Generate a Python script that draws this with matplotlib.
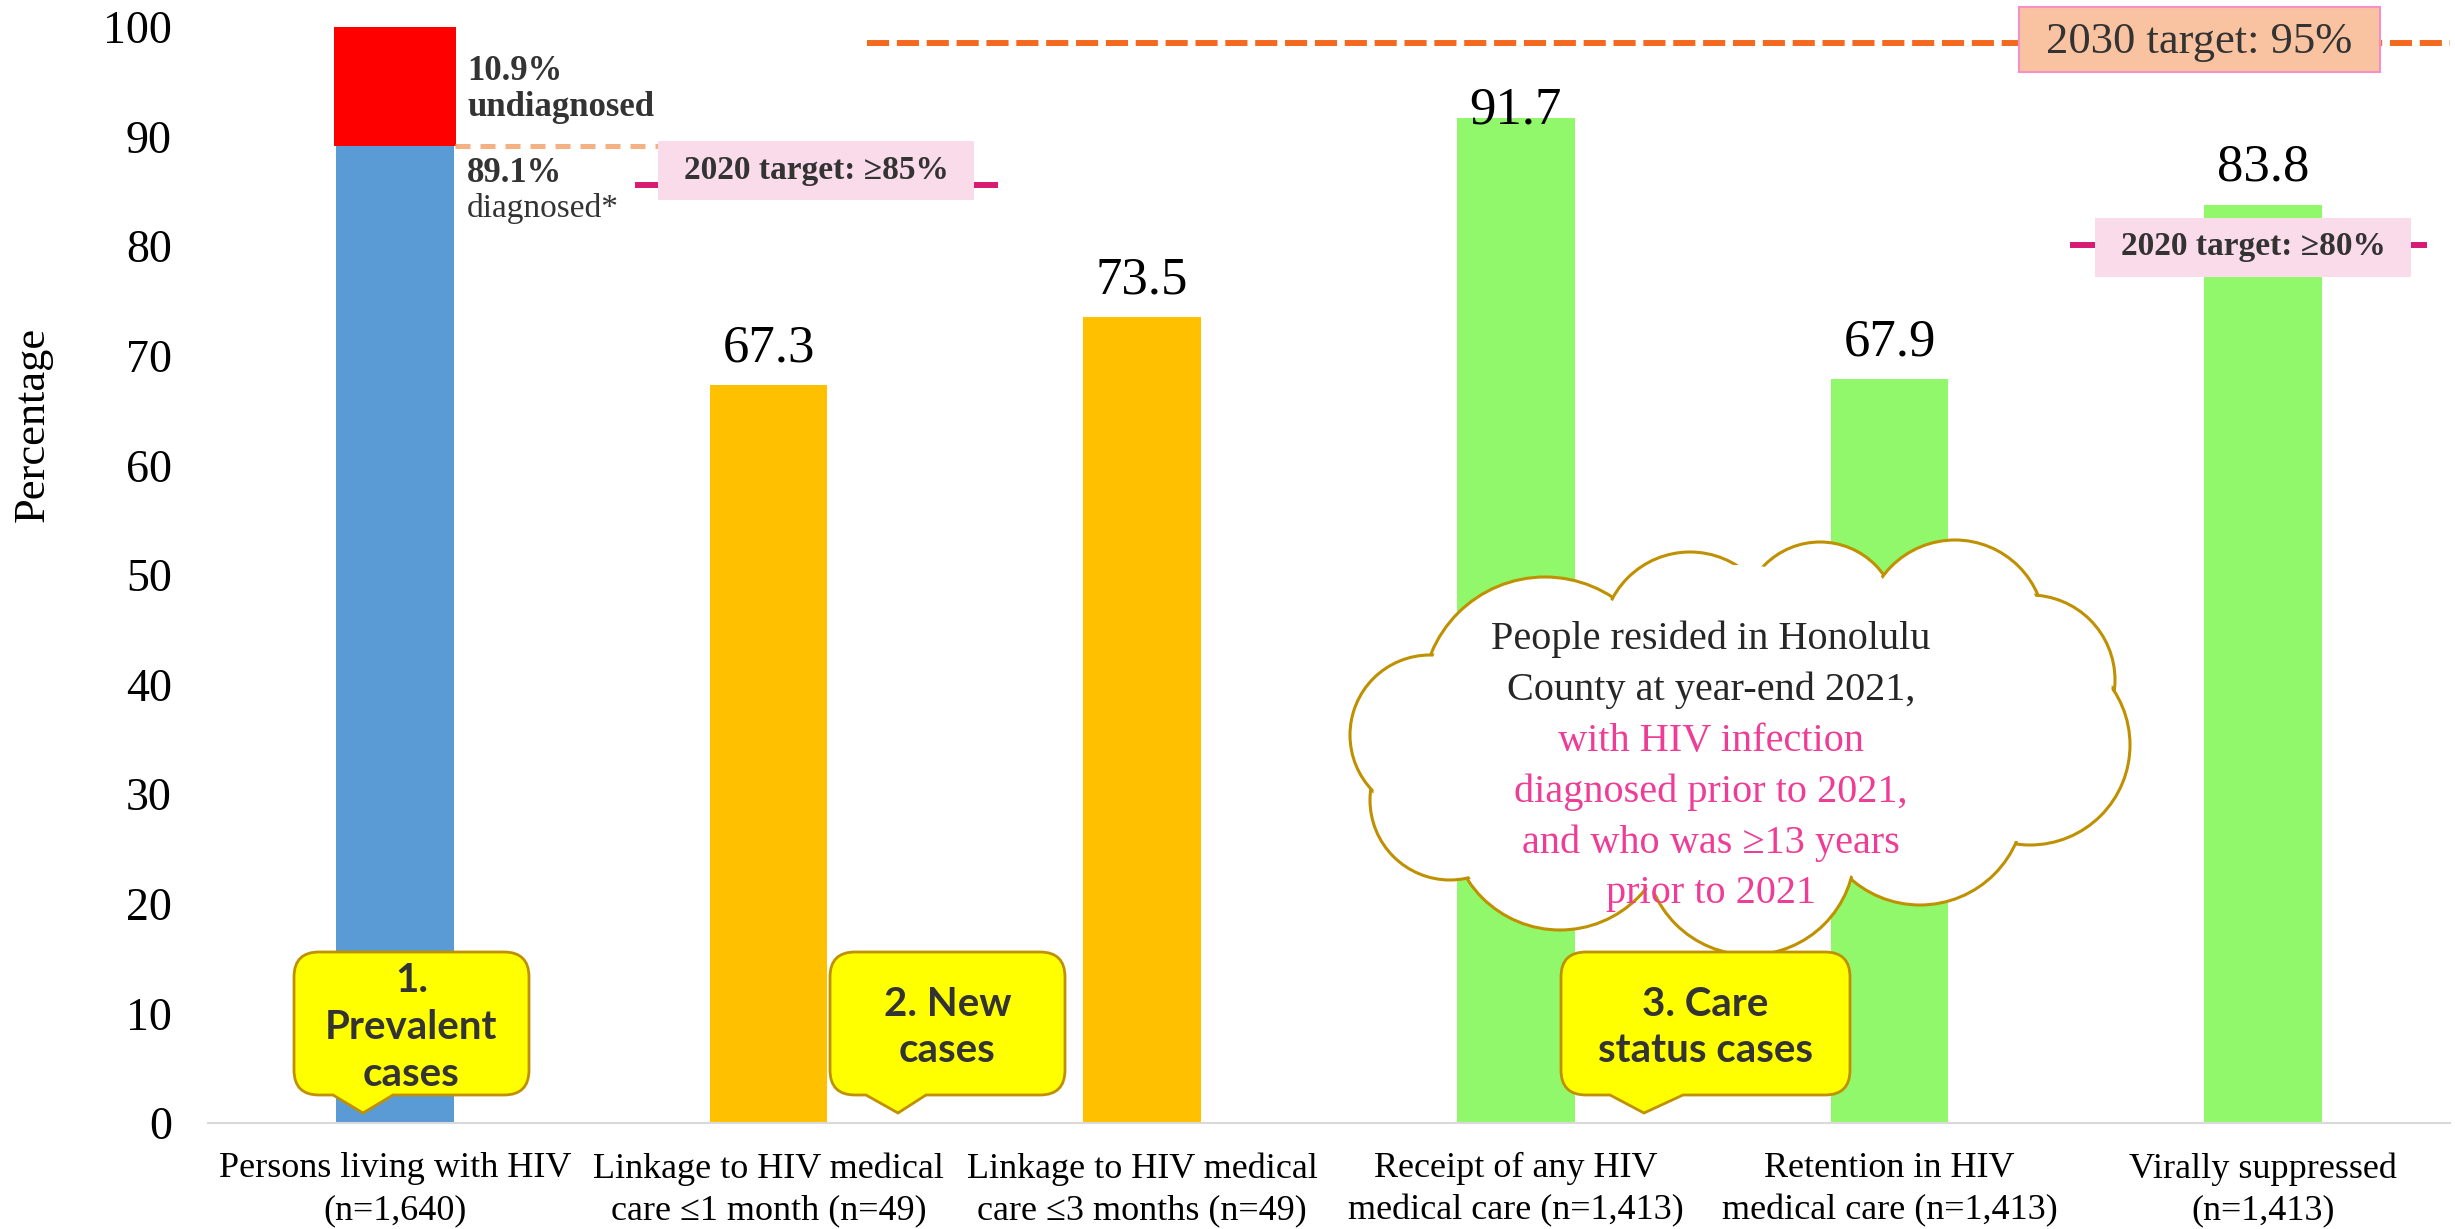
import matplotlib.pyplot as plt
from matplotlib.patches import Circle, PathPatch, Rectangle
from matplotlib.path import Path

# chart values
categories = ['Persons living with HIV\n(n=1,640)',
              'Linkage to HIV medical\ncare \u22641 month (n=49)',
              'Linkage to HIV medical\ncare \u22643 months (n=49)',
              'Receipt of any HIV\nmedical care (n=1,413)',
              'Retention in HIV\nmedical care (n=1,413)',
              'Virally suppressed\n(n=1,413)']
values = [89.1, 67.3, 73.5, 91.7, 67.9, 83.8]
undiagnosed = 10.9
value_labels = ['', '67.3', '73.5', '91.7', '67.9', '83.8']
bar_colors = ['#5B9BD5', '#FFC000', '#FFC000', '#92F86B', '#92F86B', '#92F86B']
label_offsets = [17, 17, 17, -4, 17, 17]   # points above bar top

# target lines (levels as drawn in the picture)
level_2030 = 98.5
level_2020_dx = 85.6
level_2020_vs = 80.1

cloud_lines = ['People resided in Honolulu', 'County at year-end 2021,',
               'with HIV infection', 'diagnosed prior to 2021,',
               'and who was \u226513 years', 'prior to 2021']
cloud_colors = ['#262626', '#262626', '#EE3D96', '#EE3D96', '#EE3D96', '#EE3D96']

callout_texts = ['1.\nPrevalent\ncases', '2. New\ncases', '3. Care\nstatus cases']

W, H = 2455, 1229
plt.rcParams['font.family'] = 'Liberation Serif'

fig = plt.figure(figsize=(W / 100, H / 100), dpi=100)
ax = fig.add_axes([208 / W, 1 - 1123 / H, 2242 / W, 1096 / H])

x = list(range(len(values)))
ax.bar(x, values, width=0.315, color=bar_colors, zorder=2)
ax.bar(0, undiagnosed, bottom=values[0], width=0.325, color='#FF0000', zorder=2)

for xi, v, lab, off in zip(x, values, value_labels, label_offsets):
    if lab:
        ax.annotate(lab, (xi, v), xytext=(0, off), textcoords='offset points',
                    ha='center', va='baseline', fontsize=38, color='black')

# dashed / target lines
ax.plot([0.161, 0.704], [values[0], values[0]], color='#F4B183', lw=3.6,
        dashes=(3, 2), zorder=3)
ax.plot([1.264, 5.5], [level_2030, level_2030], color='#F4691F', lw=4.3,
        dashes=(3.7, 1.3), clip_on=False, zorder=3)
ax.plot([0.651, 1.606], [level_2020_dx, level_2020_dx], color='#D81B72', lw=4.3, zorder=3)
ax.plot([4.491, 5.431], [level_2020_vs, level_2020_vs], color='#D81B72', lw=4.3, zorder=3)

ax.set_xlim(-0.5, 5.5)
ax.set_ylim(0, 100)
ax.set_yticks(range(0, 101, 10))
ax.set_xticks(x)
ax.set_xticklabels(categories, fontsize=26, linespacing=1.35)
ax.tick_params(axis='y', length=0, pad=26, labelsize=33)
ax.tick_params(axis='x', length=0, pad=21)
for s in ['top', 'right', 'left']:
    ax.spines[s].set_visible(False)
ax.spines['bottom'].set_color('#D9D9D9')
ax.spines['bottom'].set_linewidth(1.5)

# overlay in pixel coordinates for annotations
ov = fig.add_axes([0, 0, 1, 1], zorder=3)
ov.set_xlim(0, W)
ov.set_ylim(H, 0)
ov.axis('off')
ov.patch.set_alpha(0)

fig.text(33 / W, 1 - 424 / H, 'Percentage', rotation=90, ha='center', va='center', fontsize=32)

dark = '#333333'
ov.text(467, 72, '10.9%', fontsize=25, fontweight='bold', color=dark, va='center')
ov.text(467, 108, 'undiagnosed', fontsize=25, fontweight='bold', color=dark, va='center')
ov.text(467, 173, '89.1%', fontsize=25, fontweight='bold', color=dark, va='center')
ov.text(467, 208, 'diagnosed*', fontsize=24, color=dark, va='center')

# target boxes
ov.add_patch(Rectangle((2019, 7), 361, 65, fc='#F9C3A1', ec='#F490C4', lw=1.5))
ov.text(2199, 42, '2030 target: 95%', fontsize=32, color=dark, ha='center', va='center')
ov.add_patch(Rectangle((658, 141), 316, 59, fc='#FADBE9', ec='none'))
ov.text(816, 171, '2020 target: \u226585%', fontsize=24, fontweight='bold', color=dark,
        ha='center', va='center')
ov.add_patch(Rectangle((2095, 218), 316, 59, fc='#FADBE9', ec='none'))
ov.text(2253, 247, '2020 target: \u226580%', fontsize=24, fontweight='bold', color=dark,
        ha='center', va='center')

# cloud
lobes = [(1545, 700, 123), (1690, 640, 88), (1820, 620, 78), (1955, 630, 90),
         (2030, 680, 85), (2030, 745, 100), (1920, 800, 105), (1750, 850, 105),
         (1560, 820, 110), (1450, 800, 80), (1430, 735, 80)]
for cx, cy, r in lobes:
    ov.add_patch(Circle((cx, cy), r, fc='white', ec='#BF9000', lw=2.2, zorder=2))
for cx, cy, r in lobes:
    ov.add_patch(Circle((cx, cy), r - 3, fc='white', ec='none', zorder=3))
ov.add_patch(Circle((1740, 740), 175, fc='white', ec='none', zorder=3))
for i, (line, c) in enumerate(zip(cloud_lines, cloud_colors)):
    ov.text(1711, 639 + i * 51, line, fontsize=29, color=c, ha='center', va='center', zorder=4)


# yellow callouts
def callout(x0, y0, x1, y1, t0, t1, tip, r=25):
    verts = [(x0 + r, y0), (x1 - r, y0), (x1, y0), (x1, y0 + r), (x1, y1 - r), (x1, y1),
             (x1 - r, y1), (t1, y1), tip, (t0, y1), (x0 + r, y1), (x0, y1), (x0, y1 - r),
             (x0, y0 + r), (x0, y0), (x0 + r, y0), (x0 + r, y0)]
    codes = [Path.MOVETO, Path.LINETO, Path.CURVE3, Path.CURVE3, Path.LINETO, Path.CURVE3,
             Path.CURVE3, Path.LINETO, Path.LINETO, Path.LINETO, Path.LINETO, Path.CURVE3,
             Path.CURVE3, Path.LINETO, Path.CURVE3, Path.CURVE3, Path.CLOSEPOLY]
    return PathPatch(Path(verts, codes), fc='#FFFF00', ec='#BF9000', lw=2, zorder=5)


boxes = [(294, 952, 529, 1095, 333, 393, (363, 1113)),
         (830, 952, 1065, 1095, 866, 926, (898, 1113)),
         (1561, 952, 1850, 1095, 1610, 1683, (1644, 1113))]
for (x0, y0, x1, y1, t0, t1, tip), txt in zip(boxes, callout_texts):
    ov.add_patch(callout(x0, y0, x1, y1, t0, t1, tip))
    ov.text((x0 + x1) / 2, (y0 + y1) / 2 + 4, txt, family='Lato', fontweight='bold',
            fontsize=29, color=dark, ha='center', va='center', linespacing=1.33, zorder=6)

fig.savefig('out.png', dpi=100)
